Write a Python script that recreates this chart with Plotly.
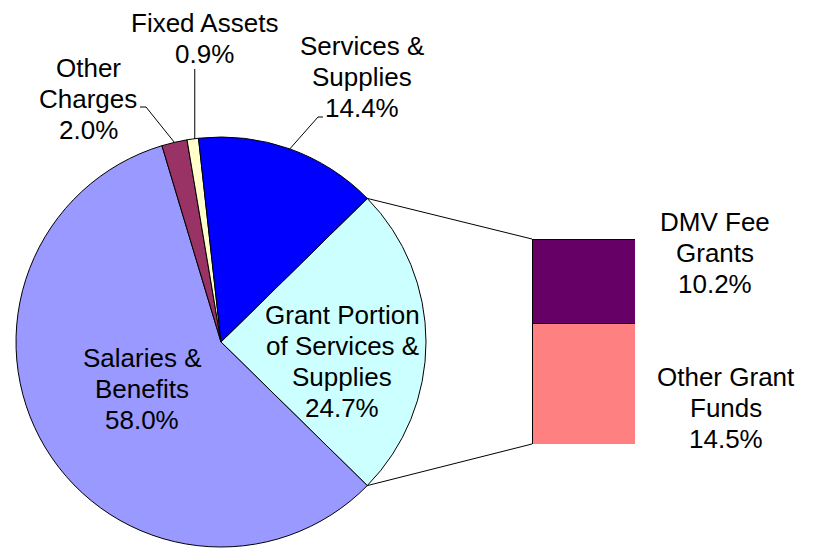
import math
import plotly.graph_objects as go

# ---- data ----
pie_labels = ["Grant Portion of Services & Supplies", "Salaries & Benefits",
              "Other Charges", "Fixed Assets", "Services & Supplies"]
pie_values = [24.7, 58.0, 2.0, 0.9, 14.4]
pie_colors = ["#CCFFFF", "#9999FF", "#993366", "#FFFFCC", "#0000FF"]

bar_labels = ["Other Grant Funds", "DMV Fee Grants"]
bar_values = [14.5, 10.2]
bar_colors = ["#FF8080", "#660066"]

W, H = 815, 557
FONT = "Liberation Sans, Arial, sans-serif"
FS = 26
LH = 31

# pie geometry (pixels)
cx, cy, R = 221, 342, 205
total = sum(pie_values)
rotation = 90 - pie_values[0] / total * 360 / 2

def px(x):
    return x / W

def py(y):
    return 1 - y / H

def edge(deg):
    a = math.radians(deg)
    return cx + R * math.sin(a), cy - R * math.cos(a)

# cumulative angles
starts = []
acc = rotation
for v in pie_values:
    starts.append(acc)
    acc += v / total * 360
mids = [s + v / total * 180 for s, v in zip(starts, pie_values)]

fig = go.Figure()
fig.add_trace(go.Pie(
    labels=pie_labels, values=pie_values, sort=False, direction="clockwise",
    rotation=rotation, textinfo="none", hoverinfo="label+percent",
    marker=dict(colors=pie_colors, line=dict(color="#000000", width=1)),
    domain=dict(x=[px(cx - R), px(cx + R)], y=[py(cy + R), py(cy - R)]),
    showlegend=False,
))

for lab, val, col in zip(bar_labels, bar_values, bar_colors):
    fig.add_trace(go.Bar(
        x=[0], y=[val], name=lab, marker=dict(color=col, line=dict(color="#000000", width=1)),
        width=1, xaxis="x", yaxis="y", showlegend=False,
    ))

bx0, bx1, by0, by1 = 532, 635, 239, 444
fig.update_layout(
    barmode="stack",
    xaxis=dict(domain=[px(bx0), px(bx1)], range=[-0.5, 0.5], visible=False, fixedrange=True),
    yaxis=dict(domain=[py(by1), py(by0)], range=[0, sum(bar_values)], visible=False, fixedrange=True),
)

# connector lines from pie split boundaries to bar corners
grant_start = starts[0]
grant_end = starts[0] + pie_values[0] / total * 360
p_top = edge(grant_start)
p_bot = edge(grant_end)
shapes = [
    dict(type="line", xref="paper", yref="paper", x0=px(p_top[0]), y0=py(p_top[1]),
         x1=px(bx0), y1=py(by0), line=dict(color="#000000", width=1)),
    dict(type="line", xref="paper", yref="paper", x0=px(p_bot[0]), y0=py(p_bot[1]),
         x1=px(bx0), y1=py(by1), line=dict(color="#000000", width=1)),
]

# leader lines for outside labels
oc = edge(mids[2])
fa = edge(mids[3])
ss = edge(mids[4])
leaders = [
    [(140, 107), (146, 107), oc],
    [(fa[0] + 2, 69), (fa[0] + 2, fa[1])],
    [(323, 117), (318, 117), ss],
]
for pts in leaders:
    for (xa, ya), (xb, yb) in zip(pts[:-1], pts[1:]):
        shapes.append(dict(type="line", xref="paper", yref="paper", x0=px(xa), y0=py(ya),
                           x1=px(xb), y1=py(yb), line=dict(color="#000000", width=1)))

fig.update_layout(shapes=shapes)

annotations = []

def label(lines, x, y0):
    for i, t in enumerate(lines):
        annotations.append(dict(text=t, x=px(x), y=py(y0 + i * LH), xref="paper", yref="paper",
                                showarrow=False, xanchor="center", yanchor="middle",
                                font=dict(family=FONT, size=FS, color="#000000")))

def pct(v):
    return f"{v:.1f}%"

label(["Fixed Assets", pct(pie_values[3])], 204, 23)
label(["Services &", "Supplies", pct(pie_values[4])], 362, 46)
label(["Other", "Charges", pct(pie_values[2])], 88, 68)
label(["Salaries &", "Benefits", pct(pie_values[1])], 142, 358)
label(["Grant Portion", "of Services &", "Supplies", pct(pie_values[0])], 342, 315)
label(["DMV Fee", "Grants", pct(bar_values[1])], 715, 222)
label(["Other Grant", "Funds", pct(bar_values[0])], 726, 377)

fig.update_layout(
    annotations=annotations,
    width=W, height=H,
    margin=dict(l=0, r=0, t=0, b=0),
    paper_bgcolor="#FFFFFF", plot_bgcolor="#FFFFFF",
    font=dict(family=FONT, size=FS, color="#000000"),
)

fig.write_html("out.html", config={"displayModeBar": False},
               post_script="document.body.style.margin='0px';")
